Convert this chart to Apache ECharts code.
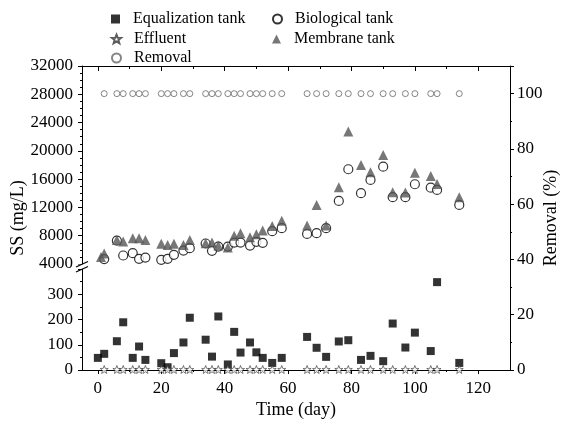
<!DOCTYPE html>
<html>
<head>
<meta charset="utf-8">
<script src="https://cdn.jsdelivr.net/npm/echarts@6/dist/echarts.min.js"></script>
<style>
  html, body { margin: 0; padding: 0; background: #fff; }
  #chart { width: 561px; height: 421px; }
</style>
</head>
<body>
<div id="chart"></div>
<script>
// sampling days (x axis)
var eqDays = [0, 2, 6, 8, 11, 13, 15, 20, 22, 24, 27, 29, 34, 36, 38, 41, 43, 45, 48, 50, 52, 55, 58,
  66, 69, 72, 76, 79, 83, 86, 90, 93, 97, 100, 105, 107, 114];
var eqValues = [48, 64, 114, 189, 48, 93, 40, 27, 11, 67, 109, 207, 120, 53, 212, 22, 151, 69, 109, 70, 48, 28, 48,
  131, 88, 52, 113, 118, 40, 56, 35, 184, 89, 148, 75, 348, 28];

var effDays = [2, 6, 8, 11, 13, 15, 20, 22, 24, 27, 29, 34, 36, 38, 41, 43, 45, 48, 50, 52, 55, 58,
  66, 69, 72, 76, 79, 83, 86, 90, 93, 97, 100, 105, 107, 114];
var effValues = [2, 2, 2, 2, 2, 2, 2, 2, 2, 2, 2, 2, 2, 2, 2, 2, 2, 2, 2, 2, 2, 2,
  2, 2, 2, 2, 2, 2, 2, 2, 2, 2, 2, 2, 2, 2];
var removalValues = [100, 100, 100, 100, 100, 100, 100, 100, 100, 100, 100, 100, 100, 100, 100, 100, 100, 100, 100, 100, 100, 100,
  100, 100, 100, 100, 100, 100, 100, 100, 100, 100, 100, 100, 100, 100];

var bioDays = eqDays;
var bioValues = [3900, 4700, 7300, 5200, 5530, 4730, 4910, 4590, 4730, 5300, 5900, 6240, 6900, 5860, 6470, 6470, 7030, 7030, 6610, 7130, 6990, 8640, 9070,
  8260, 8360, 9070, 12920, 17400, 14010, 15890, 17770, 13450, 13450, 15280, 14800, 14480, 12360];
var memDays = [1, 2, 6, 8, 11, 13, 15, 20, 22, 24, 27, 29, 34, 36, 38, 41, 43, 45, 48, 50, 52, 55, 58,
  66, 69, 72, 76, 79, 83, 86, 90, 93, 97, 100, 105, 107, 114];
var memValues = [5000, 5500, 7400, 7170, 7650, 7650, 7400, 6850, 6700, 6850, 6700, 7400, 6950, 7030, 6610, 6330, 7980, 8360, 7790, 8220, 8730, 9390, 10100,
  9430, 12360, 9430, 14860, 22720, 18010, 16970, 19420, 14150, 14100, 16920, 16460, 15330, 13450];

var xMajor = [0, 20, 40, 60, 80, 100, 120];
var xMinor = [10, 30, 50, 70, 90, 110];

function pairs(xs, ys) {
  return xs.map(function (x, i) { return [x, ys[i]]; });
}

var font = '"Liberation Serif", "DejaVu Serif", serif';
var starPath = 'path://M12,1 L14.9,8.6 L23,8.9 L16.7,14 L18.9,22 L12,17.5 L5.1,22 L7.3,14 L1,8.9 L9.1,8.6 Z';
var axisLine = { onZero: false, lineStyle: { color: '#000', width: 1 } };

function oneLegend(name, left, top) {
  return {
    data: [name], left: left, top: top, padding: 0,
    itemWidth: 9, itemHeight: 9,
    textStyle: { fontFamily: font, fontSize: 16, color: '#000', padding: [0, 0, 0, 8] }
  };
}

var chart = echarts.init(document.getElementById('chart'));
chart.setOption({
  animation: false,
  textStyle: { fontFamily: font },
  legend: [
    oneLegend('Equalization tank', 111, 11),
    oneLegend('Effluent', 111, 31),
    oneLegend('Removal', 111, 50),
    oneLegend('Biological tank', 272, 11),
    oneLegend('Membrane tank', 272, 31)
  ],
  grid: [
    { left: 82, right: 51, top: 66, height: 198, outerBoundsMode: 'none' },   // upper SS
    { left: 82, right: 51, top: 269, height: 101, outerBoundsMode: 'none' },  // lower SS
    { left: 82, right: 51, top: 66, height: 304, outerBoundsMode: 'none' }    // removal, full height
  ],
  xAxis: [
    { gridIndex: 0, type: 'value', min: -5, max: 130, show: false },
    {
      gridIndex: 1, type: 'value', min: -5, max: 130, position: 'bottom',
      axisLine: axisLine, splitLine: { show: false },
      axisTick: { customValues: xMajor, length: 4, lineStyle: { color: '#000' } },
      axisLabel: { customValues: xMajor, fontSize: 17, color: '#000', margin: 10 },
      name: 'Time (day)', nameLocation: 'middle', nameGap: 31, nameMoveOverlap: false,
      nameTextStyle: { fontSize: 18, color: '#000', fontFamily: font }
    },
    {
      gridIndex: 1, type: 'value', min: -5, max: 130, position: 'bottom',
      axisLine: { show: false, onZero: false }, splitLine: { show: false }, axisLabel: { show: false },
      axisTick: { customValues: xMinor, length: 2, lineStyle: { color: '#000' } }
    },
    {
      gridIndex: 2, type: 'value', min: -5, max: 130, position: 'top',
      axisLine: axisLine, splitLine: { show: false }, axisLabel: { show: false },
      axisTick: { inside: true, customValues: xMajor, length: 5, lineStyle: { color: '#000' } }
    },
    {
      gridIndex: 2, type: 'value', min: -5, max: 130, position: 'top',
      axisLine: { show: false, onZero: false }, splitLine: { show: false }, axisLabel: { show: false },
      axisTick: { inside: true, customValues: xMinor, length: 3, lineStyle: { color: '#000' } }
    }
  ],
  yAxis: [
    {
      gridIndex: 0, type: 'value', min: 4000, max: 32000, interval: 4000,
      axisLine: { show: true, onZero: false, lineStyle: { color: '#000' } }, splitLine: { show: false },
      axisTick: { length: 4, lineStyle: { color: '#000' } },
      minorTick: { show: true, splitNumber: 4, length: 2, lineStyle: { color: '#000' } },
      axisLabel: { fontSize: 17, color: '#000', margin: 9, formatter: function (v) { return String(v); } }
    },
    {
      gridIndex: 1, type: 'value', min: 0, max: 400, interval: 100,
      axisLine: { show: true, onZero: false, lineStyle: { color: '#000' } }, splitLine: { show: false },
      axisTick: { length: 4, lineStyle: { color: '#000' } },
      minorTick: { show: true, splitNumber: 2, length: 2, lineStyle: { color: '#000' } },
      axisLabel: {
        fontSize: 17, color: '#000', margin: 9,
        formatter: function (v) { return v >= 400 ? '' : String(v); }
      }
    },
    {
      gridIndex: 2, type: 'value', min: 0, max: 110, interval: 20, position: 'right',
      axisLine: { show: true, onZero: false, lineStyle: { color: '#000' } }, splitLine: { show: false },
      axisTick: { length: 4, lineStyle: { color: '#000' } },
      minorTick: { show: true, splitNumber: 2, length: 2, lineStyle: { color: '#000' } },
      axisLabel: { fontSize: 17, color: '#000', margin: 7, showMaxLabel: false },
      name: 'Removal (%)', nameLocation: 'middle', nameGap: 32, nameRotate: 90, nameMoveOverlap: false,
      nameTextStyle: { fontSize: 18, color: '#000', fontFamily: font }
    },
    {
      gridIndex: 2, type: 'value', min: 0, max: 110, position: 'left',
      axisLine: { show: false, onZero: false }, axisTick: { show: false }, axisLabel: { show: false },
      splitLine: { show: false },
      name: 'SS (mg/L)', nameLocation: 'middle', nameGap: 55, nameMoveOverlap: false,
      nameTextStyle: { fontSize: 18, color: '#000', fontFamily: font }
    }
  ],
  series: [
    {
      name: 'Equalization tank', type: 'scatter', xAxisIndex: 1, yAxisIndex: 1,
      symbol: 'rect', symbolSize: 8, itemStyle: { color: '#000' },
      data: pairs(eqDays, eqValues)
    },
    {
      name: 'Effluent', type: 'scatter', xAxisIndex: 1, yAxisIndex: 1,
      symbol: starPath, symbolSize: 8,
      itemStyle: { color: '#fff', borderColor: '#333', borderWidth: 0.8 },
      data: pairs(effDays, effValues)
    },
    {
      name: 'Removal', type: 'scatter', xAxisIndex: 3, yAxisIndex: 2,
      symbol: 'circle', symbolSize: 6,
      itemStyle: { color: '#fff', borderColor: '#666', borderWidth: 1 },
      data: pairs(effDays, removalValues)
    },
    {
      name: 'Biological tank', type: 'scatter', xAxisIndex: 0, yAxisIndex: 0,
      symbol: 'circle', symbolSize: 9,
      itemStyle: { color: '#fff', borderColor: '#000', borderWidth: 1.2 },
      data: pairs(bioDays, bioValues)
    },
    {
      name: 'Membrane tank', type: 'scatter', xAxisIndex: 0, yAxisIndex: 0,
      symbol: 'triangle', symbolSize: 10, itemStyle: { color: '#555' },
      data: pairs(memDays, memValues)
    }
  ],
  graphic: [
    { type: 'rect', shape: { x: 78, y: 264.5, width: 8, height: 4 }, style: { fill: '#fff' }, z: 100 },
    { type: 'line', shape: { x1: 76, y1: 267, x2: 88, y2: 261.5 }, style: { stroke: '#000', lineWidth: 1.2 }, z: 101 },
    { type: 'line', shape: { x1: 76, y1: 272, x2: 88, y2: 266.5 }, style: { stroke: '#000', lineWidth: 1.2 }, z: 101 }
  ]
});
</script>
</body>
</html>
